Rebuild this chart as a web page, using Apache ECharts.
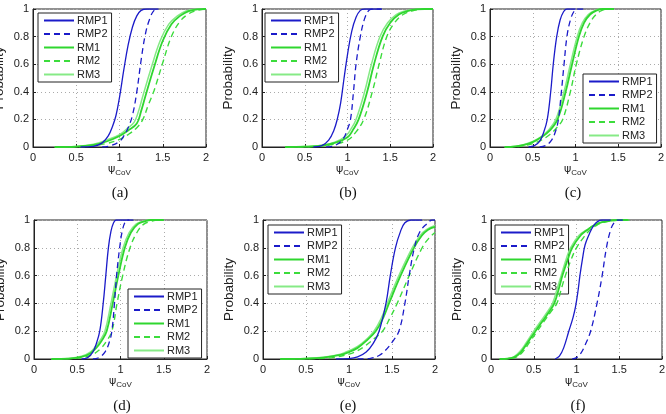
<!DOCTYPE html>
<html><head><meta charset="utf-8">
<script src="https://cdn.jsdelivr.net/npm/echarts@6/dist/echarts.min.js"></script>
<style>html,body{margin:0;padding:0;background:#fff}#c{width:666px;height:414px}</style>
</head><body><div id="c"></div>
<script>
const seriesNames = ['RMP1','RMP2','RM1','RM2','RM3'];
const panelLabels = ['(a)','(b)','(c)','(d)','(e)','(f)'];
const xTicks = [0,0.5,1,1.5,2];
const yTicks = [0,0.2,0.4,0.6,0.8,1];

const a_RMP1 = [[0.55,0],[0.7,0.005],[0.8,0.03],[0.87,0.08],[0.92,0.15],[0.96,0.23],[1.0,0.36],[1.05,0.56],[1.1,0.74],[1.15,0.87],[1.2,0.95],[1.25,0.99],[1.32,1],[1.45,1]];
const a_RMP2 = [[0.8,0],[0.9,0.01],[1.0,0.04],[1.05,0.08],[1.1,0.14],[1.15,0.23],[1.2,0.4],[1.25,0.63],[1.3,0.82],[1.35,0.93],[1.4,0.99],[1.45,1]];
const a_RM1 = [[0.25,0],[0.5,0.003],[0.7,0.015],[0.85,0.04],[1.0,0.08],[1.1,0.12],[1.2,0.17],[1.25,0.26],[1.3,0.37],[1.4,0.58],[1.5,0.77],[1.6,0.89],[1.7,0.95],[1.8,0.985],[1.9,0.998],[2.0,1]];
const a_RM2 = [[0.3,0],[0.6,0.004],[0.85,0.025],[1.0,0.055],[1.1,0.09],[1.2,0.14],[1.27,0.2],[1.33,0.3],[1.4,0.41],[1.5,0.61],[1.6,0.8],[1.7,0.91],[1.8,0.965],[1.9,0.99],[2.0,1]];
const a_RM3 = [[0.25,0],[0.5,0.004],[0.7,0.02],[0.85,0.05],[1.0,0.09],[1.1,0.14],[1.17,0.18],[1.22,0.26],[1.27,0.37],[1.37,0.58],[1.47,0.77],[1.57,0.89],[1.67,0.95],[1.77,0.985],[1.87,0.998],[1.97,1]];

const b_RMP1 = [[0.6,0],[0.7,0.01],[0.78,0.05],[0.84,0.12],[0.88,0.2],[0.92,0.32],[0.96,0.5],[1.0,0.67],[1.05,0.84],[1.1,0.94],[1.15,0.99],[1.2,1],[1.4,1]];
const b_RMP2 = [[0.75,0],[0.85,0.01],[0.95,0.06],[1.0,0.13],[1.035,0.2],[1.07,0.4],[1.1,0.6],[1.15,0.8],[1.2,0.93],[1.25,0.99],[1.3,1],[1.4,1]];
const b_RM1 = [[0.27,0],[0.5,0.002],[0.7,0.01],[0.85,0.03],[1.0,0.07],[1.07,0.13],[1.13,0.2],[1.23,0.4],[1.31,0.6],[1.41,0.8],[1.5,0.9],[1.6,0.96],[1.7,0.985],[1.8,0.997],[1.9,1],[2.0,1]];
const b_RM2 = [[0.3,0],[0.6,0.003],[0.8,0.015],[1.0,0.05],[1.1,0.11],[1.19,0.2],[1.29,0.4],[1.37,0.6],[1.46,0.8],[1.55,0.9],[1.65,0.96],[1.75,0.985],[1.85,0.997],[1.95,1],[2.0,1]];
const b_RM3 = [[0.27,0],[0.5,0.003],[0.7,0.012],[0.85,0.035],[0.98,0.08],[1.04,0.13],[1.1,0.2],[1.2,0.4],[1.28,0.6],[1.38,0.8],[1.47,0.9],[1.57,0.96],[1.67,0.985],[1.77,0.997],[1.87,1],[2.0,1]];

const c_RMP1 = [[0.45,0],[0.52,0.01],[0.58,0.04],[0.63,0.11],[0.67,0.2],[0.71,0.4],[0.74,0.6],[0.78,0.8],[0.82,0.92],[0.86,0.98],[0.9,1],[1.0,1]];
const c_RMP2 = [[0.58,0],[0.65,0.01],[0.72,0.05],[0.77,0.12],[0.8,0.2],[0.835,0.4],[0.866,0.6],[0.9,0.8],[0.94,0.92],[0.98,0.98],[1.02,1],[1.1,1]];
const c_RM1 = [[0.17,0],[0.3,0.005],[0.4,0.015],[0.5,0.035],[0.6,0.07],[0.7,0.12],[0.79,0.2],[0.885,0.4],[0.96,0.6],[1.04,0.8],[1.1,0.9],[1.17,0.96],[1.25,0.99],[1.32,1],[1.45,1]];
const c_RM2 = [[0.2,0],[0.35,0.005],[0.5,0.025],[0.6,0.05],[0.7,0.09],[0.78,0.14],[0.85,0.2],[0.94,0.4],[1.01,0.6],[1.1,0.8],[1.17,0.9],[1.24,0.96],[1.31,0.99],[1.38,1],[1.45,1]];
const c_RM3 = [[0.17,0],[0.3,0.006],[0.4,0.018],[0.5,0.04],[0.6,0.075],[0.68,0.12],[0.77,0.2],[0.865,0.4],[0.94,0.6],[1.02,0.8],[1.08,0.9],[1.15,0.96],[1.23,0.99],[1.3,1],[1.45,1]];

const d_RMP1 = [[0.55,0],[0.62,0.01],[0.68,0.05],[0.72,0.11],[0.76,0.2],[0.8,0.4],[0.83,0.6],[0.86,0.8],[0.89,0.92],[0.92,0.98],[0.95,1],[1.1,1]];
const d_RMP2 = [[0.68,0],[0.75,0.01],[0.82,0.05],[0.87,0.12],[0.9,0.2],[0.93,0.4],[0.955,0.6],[0.99,0.8],[1.02,0.92],[1.05,0.98],[1.08,1],[1.2,1]];
const d_RM1 = [[0.2,0],[0.4,0.003],[0.55,0.015],[0.65,0.04],[0.72,0.08],[0.78,0.13],[0.84,0.2],[0.91,0.4],[0.975,0.6],[1.05,0.8],[1.12,0.91],[1.2,0.97],[1.28,0.99],[1.35,1],[1.5,1]];
const d_RM2 = [[0.25,0],[0.45,0.003],[0.6,0.015],[0.7,0.04],[0.78,0.08],[0.84,0.13],[0.9,0.2],[0.96,0.4],[1.025,0.6],[1.11,0.8],[1.19,0.91],[1.27,0.97],[1.35,0.99],[1.43,1],[1.5,1]];
const d_RM3 = [[0.2,0],[0.4,0.004],[0.55,0.02],[0.65,0.05],[0.71,0.09],[0.77,0.14],[0.82,0.2],[0.89,0.4],[0.955,0.6],[1.03,0.8],[1.1,0.91],[1.18,0.97],[1.26,0.99],[1.33,1],[1.5,1]];

const e_RMP1 = [[0.85,0],[1.0,0.003],[1.1,0.015],[1.2,0.05],[1.28,0.11],[1.35,0.2],[1.43,0.4],[1.48,0.6],[1.54,0.8],[1.6,0.92],[1.65,0.98],[1.72,1],[1.85,1]];
const e_RMP2 = [[1.1,0],[1.25,0.005],[1.35,0.025],[1.42,0.06],[1.5,0.12],[1.58,0.2],[1.65,0.4],[1.7,0.6],[1.76,0.8],[1.82,0.91],[1.9,0.97],[1.97,1],[2.0,1]];
const e_RM1 = [[0.2,0],[0.5,0.003],[0.7,0.01],[0.9,0.03],[1.0,0.05],[1.1,0.08],[1.2,0.13],[1.31,0.2],[1.4,0.3],[1.465,0.4],[1.6,0.6],[1.755,0.8],[1.85,0.89],[1.92,0.93],[2.0,0.95]];
const e_RM2 = [[0.3,0],[0.6,0.003],[0.8,0.01],[1.0,0.035],[1.1,0.06],[1.2,0.1],[1.3,0.15],[1.39,0.2],[1.48,0.3],[1.56,0.4],[1.7,0.6],[1.85,0.8],[1.93,0.87],[2.0,0.91]];
const e_RM3 = [[0.2,0],[0.5,0.004],[0.7,0.012],[0.9,0.035],[1.0,0.06],[1.1,0.09],[1.2,0.14],[1.29,0.2],[1.38,0.3],[1.445,0.4],[1.58,0.6],[1.735,0.8],[1.83,0.89],[1.9,0.93],[2.0,0.96]];

const f_RMP1 = [[0.75,0],[0.8,0.02],[0.85,0.08],[0.91,0.2],[0.96,0.3],[0.99,0.38],[1.02,0.5],[1.04,0.6],[1.07,0.72],[1.1,0.82],[1.15,0.9],[1.2,0.96],[1.25,0.99],[1.3,1],[1.4,1]];
const f_RMP2 = [[0.95,0],[1.0,0.01],[1.05,0.04],[1.1,0.1],[1.165,0.2],[1.24,0.4],[1.3,0.6],[1.35,0.8],[1.4,0.93],[1.44,0.98],[1.48,1],[1.55,1]];
const f_RM1 = [[0.1,0],[0.2,0.003],[0.28,0.015],[0.35,0.05],[0.42,0.11],[0.52,0.2],[0.6,0.27],[0.68,0.34],[0.74,0.4],[0.8,0.52],[0.835,0.6],[0.9,0.72],[0.95,0.8],[1.05,0.89],[1.13,0.93],[1.2,0.96],[1.3,0.985],[1.48,1],[1.6,1]];
const f_RM2 = [[0.12,0],[0.22,0.003],[0.3,0.015],[0.37,0.05],[0.44,0.11],[0.54,0.2],[0.62,0.27],[0.7,0.34],[0.77,0.4],[0.83,0.52],[0.87,0.6],[0.94,0.72],[1.0,0.8],[1.09,0.88],[1.16,0.93],[1.23,0.96],[1.33,0.985],[1.52,1],[1.65,1]];
const f_RM3 = [[0.1,0],[0.2,0.004],[0.27,0.017],[0.34,0.055],[0.41,0.115],[0.5,0.2],[0.58,0.27],[0.66,0.34],[0.72,0.4],[0.78,0.52],[0.82,0.6],[0.88,0.72],[0.93,0.8],[1.03,0.89],[1.12,0.93],[1.2,0.96],[1.3,0.985],[1.48,1],[1.6,1]];

const panelData = [
  [a_RMP1,a_RMP2,a_RM1,a_RM2,a_RM3],
  [b_RMP1,b_RMP2,b_RM1,b_RM2,b_RM3],
  [c_RMP1,c_RMP2,c_RM1,c_RM2,c_RM3],
  [d_RMP1,d_RMP2,d_RM1,d_RM2,d_RM3],
  [e_RMP1,e_RMP2,e_RM1,e_RM2,e_RM3],
  [f_RMP1,f_RMP2,f_RM1,f_RM2,f_RM3]
];

// layout (pixels)
const grids = [
  {left:33, top:9, width:173, height:138},
  {left:262, top:9, width:171, height:138},
  {left:490, top:9, width:171, height:138},
  {left:34, top:220, width:173, height:139},
  {left:263, top:220, width:172, height:139},
  {left:491, top:220, width:171, height:139}
];
const legendPos = [
  {left:38, top:13},{left:265, top:13},{left:583, top:74},
  {left:128, top:289},{left:268, top:225},{left:495, top:225}
];
const captionPos = [[120,193],[348,193],[573,193],[122,406],[348,406],[578,406]];
const styles = [
  {color:'#1b1bc9', type:'solid', width:1.3},
  {color:'#1b1bc9', type:[6,4], width:1.3},
  {color:'#2fd62f', type:'solid', width:1.8},
  {color:'#3cdc3c', type:[6,4], width:1.4},
  {color:'#86ea86', type:'solid', width:1.5}
];
const FONT = 'Liberation Sans, Arial, Helvetica, sans-serif';

const option = {
  animation:false,
  backgroundColor:'#fff',
  grid: grids.map(g => Object.assign({show:true, borderColor:'#222', borderWidth:1, backgroundColor:'#fff', containLabel:false, outerBoundsMode:'none'}, g)),
  xAxis: grids.map((g,i) => ({
    type:'value', gridIndex:i, min:xTicks[0], max:xTicks[xTicks.length-1], interval:0.5,
    name:'{p|ψ}{s|CoV}', nameLocation:'middle', nameGap:15,
    nameTextStyle:{rich:{p:{fontFamily:'DejaVu Sans', fontSize:11, color:'#222'}, s:{fontFamily:FONT, fontSize:8, color:'#222', padding:[7,0,0,0]}}},
    axisLine:{show:true, lineStyle:{color:'#222', width:1}},
    axisTick:{show:true, inside:true, length:3, lineStyle:{color:'#222'}},
    axisLabel:{fontFamily:FONT, fontSize:11, color:'#222', margin:5, formatter:v=>String(v)},
    splitLine:{show:true, lineStyle:{color:'#aaa', type:[1,3], width:1}}
  })),
  yAxis: grids.map((g,i) => ({
    type:'value', gridIndex:i, min:yTicks[0], max:yTicks[yTicks.length-1], interval:0.2,
    name:'Probability', nameLocation:'middle', nameGap:27, nameRotate:90,
    nameTextStyle:{fontFamily:FONT, fontSize:13.5, color:'#222'},
    axisLine:{show:true, lineStyle:{color:'#222', width:1}},
    axisTick:{show:true, inside:true, length:3, lineStyle:{color:'#222'}},
    axisLabel:{fontFamily:FONT, fontSize:11, color:'#222', margin:4, formatter:v=>String(+v.toFixed(1))},
    splitLine:{show:true, lineStyle:{color:'#aaa', type:[1,3], width:1}}
  })),
  legend: legendPos.map(p => ({
    left:p.left, top:p.top, orient:'vertical', data:seriesNames,
    backgroundColor:'#fff', borderColor:'#222', borderWidth:1, padding:[1,4,1,5],
    itemWidth:30, itemHeight:4, itemGap:0.5, selectedMode:false,
    itemStyle:{opacity:0},
    textStyle:{fontFamily:FONT, fontSize:11, lineHeight:13, color:'#222', padding:[0,0,0,-2]}
  })),
  series: [],
  graphic: []
};

panelData.forEach((arr, i) => {
  arr.forEach((d, k) => {
    option.series.push({
      type:'line', name:seriesNames[k], xAxisIndex:i, yAxisIndex:i, data:d,
      symbol:'none', smooth:0.4, z: 10-k,
      lineStyle:{color:styles[k].color, type:styles[k].type, width:styles[k].width},
      itemStyle:{color:styles[k].color}
    });
  });
  option.graphic.push({
    type:'text', x:captionPos[i][0], y:captionPos[i][1],
    style:{text:panelLabels[i], font:'15px "Liberation Serif", "Times New Roman", serif', fill:'#111', textAlign:'center', textVerticalAlign:'middle'}
  });
});

const chart = echarts.init(document.getElementById('c'), null, {renderer:'canvas'});
chart.setOption(option);
</script></body></html>
